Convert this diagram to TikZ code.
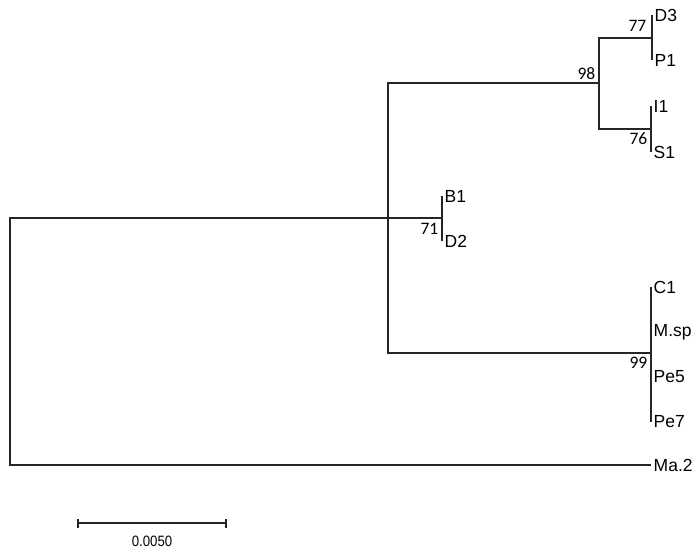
\documentclass[tikz,border=0pt]{standalone}
\usepackage{fontspec}
\setmainfont{Liberation Sans}
\newfontfamily\bootfont{Carlito}
\begin{document}
\begin{tikzpicture}[x=1pt,y=-1pt,
    branch/.style={line width=1.2pt, black!85},
    taxon/.style={anchor=west, inner sep=2.5pt, font=\fontsize{17.5}{17.5}\selectfont},
    boot/.style={inner sep=3.5pt, font=\bootfont\fontsize{17.5}{17.5}\selectfont}]
    \useasboundingbox (0,0) rectangle (698,550);
    % inner nodes of the tree
    \coordinate (root) at (10,341);
    \coordinate (ingroup) at (388,218);
    \coordinate (cladeA) at (599,83);
    \coordinate (cDP) at (652,38);
    \coordinate (cIS) at (651,129);
    \coordinate (cBD) at (442,218);
    \coordinate (cPe) at (651,353);
    % leaves
    \foreach \Name/\Label/\X/\Y in {D3/D3/652/15, P1/P1/652/60, I1/I1/651/106, S1/S1/651/152,
        B1/B1/442/196, D2/D2/442/241, C1/C1/651/287, Msp/M.sp/651/332,
        Pe5/Pe5/651/377, Pe7/Pe7/651/422, Ma2/Ma.2/651/465}{
    \coordinate (\Name) at (\X,\Y);
    \node[taxon] (t\Name) at (\Name) {\Label};
    };
    \draw[branch] (ingroup) -| (root) |- (Ma2);
    \draw[branch] (cladeA) -| (ingroup) |- (cPe);
    \draw[branch] (ingroup) -- (cBD);
    \draw[branch] (cDP) -| (cladeA) |- (cIS);
    \draw[branch] (D3) -- (P1);
    \draw[branch] (I1) -- (S1);
    \draw[branch] (B1) -- (D2);
    \draw[branch] (C1) -- (Pe7);
    % bootstrap values
    \node[boot, above left, yshift=3pt, xshift=-2pt] (b77) at (cDP) {77};
    \node[boot, above left] (b98) at (cladeA) {98};
    \node[boot, below left] (b76) at (cIS) {76};
    \node[boot, below left, yshift=-2pt] (b71) at (cBD) {71};
    \node[boot, below left] (b99) at (cPe) {99};
    % scale bar
    \coordinate (barL) at (78,523);
    \coordinate (barR) at (226,523);
    \draw[branch] (barL) -- (barR);
    \draw[branch] ([yshift=-4.5pt]barL) -- ([yshift=4.5pt]barL);
    \draw[branch] ([yshift=-4.5pt]barR) -- ([yshift=4.5pt]barR);
    \node[font=\fontsize{15}{15}\selectfont, xscale=0.88] (scale) at (152,541) {0.0050};
\end{tikzpicture}
\end{document}
